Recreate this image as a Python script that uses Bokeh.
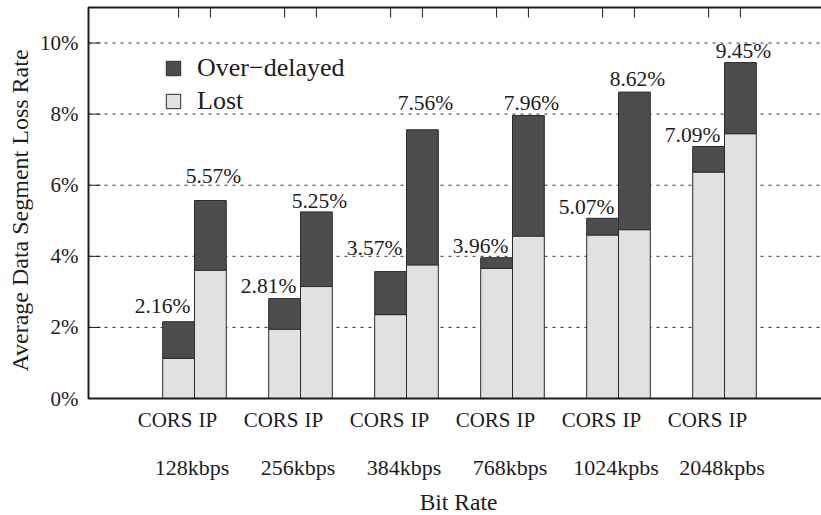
from math import pi

from bokeh.core.properties import value
from bokeh.embed import file_html
from bokeh.models import Legend, LegendItem, Range1d
from bokeh.plotting import figure
from bokeh.resources import INLINE

# ---- data (percent) -------------------------------------------------------
rates = ["128kbps", "256kbps", "384kbps", "768kbps", "1024kpbs", "2048kpbs"]
schemes = ["CORS", "IP"]
cors_lost = [1.13, 1.95, 2.36, 3.66, 4.60, 6.37]
cors_total = [2.16, 2.81, 3.57, 3.96, 5.07, 7.09]
ip_lost = [3.61, 3.15, 3.76, 4.57, 4.75, 7.45]
ip_total = [5.57, 5.25, 7.56, 7.96, 8.62, 9.45]
y_ticks = [0, 2, 4, 6, 8, 10]
y_max = 11

# ---- geometry & styling ----------------------------------------------------
W, H = 821, 515
X0, Y0 = 88, 398          # pixel position of the plot origin
SX = 106                  # pixels per bit-rate group
SY = (Y0 - 7) / y_max     # pixels per percent
FONT = value("Liberation Serif")
INK = "#1c1c1c"
DARK = "#4d4d4d"
LIGHT = "#e1e1e1"
EDGE = "#2b2b2b"
BAR_W = 0.3


def dx(px):
    return px / SX


def dy(px):
    return px / SY


x_end = (W - X0) / SX
groups = list(range(1, len(rates) + 1))
x_cors = [g - BAR_W / 2 for g in groups]
x_ip = [g + BAR_W / 2 for g in groups]
xs = x_cors + x_ip
lost = cors_lost + ip_lost
total = cors_total + ip_total

# the frame fills the whole canvas; borders, ticks and labels are drawn in data space
p = figure(width=W, height=H,
           x_range=Range1d(-X0 / SX, x_end), y_range=Range1d(-(H - Y0) / SY, Y0 / SY),
           output_backend="svg", toolbar_location=None,
           x_axis_location=None, y_axis_location=None,
           min_border=0)
p.outline_line_color = None
p.grid.visible = False
p.background_fill_color = "white"
p.border_fill_color = "white"

# dotted horizontal guides
grid_y = [t for t in y_ticks if t > 0]
p.segment(x0=[0] * len(grid_y), x1=[x_end] * len(grid_y), y0=grid_y, y1=grid_y,
          line_color="#333333", line_dash="3 5", line_width=1)

# stacked bars: lost at the base, over-delayed on top
r_lost = p.vbar(x=xs, bottom=0, top=lost, width=BAR_W,
                fill_color=LIGHT, line_color=EDGE, line_width=1)
r_over = p.vbar(x=xs, bottom=lost, top=total, width=BAR_W,
                fill_color=DARK, line_color=EDGE, line_width=1)

# border (left, bottom, top)
p.line(x=[x_end, 0, 0, x_end], y=[0, 0, y_max, y_max], line_color=INK, line_width=2)

# inward ticks: left at each percent level, top above each bar
p.segment(x0=[0] * len(y_ticks), x1=[dx(12)] * len(y_ticks), y0=y_ticks, y1=y_ticks,
          line_color=INK, line_width=1)
p.segment(x0=xs, x1=xs, y0=[y_max] * len(xs), y1=[y_max - dy(10)] * len(xs),
          line_color=INK, line_width=1)

# y tick labels
p.text(x=[-dx(10)] * len(y_ticks), y=y_ticks, text=[f"{t}%" for t in y_ticks],
       text_align="right", text_baseline="middle", text_font=FONT,
       text_font_size="21px", text_color=INK)

# y axis title
p.text(x=[-dx(X0 - 19)], y=[dy(Y0 - 210)], text=["Average Data Segment Loss Rate"],
       angle=pi / 2, text_align="center", text_baseline="middle", text_font=FONT,
       text_font_size="24px", text_color=INK)

# value labels on top of each stack (text centred ~7px above the digit baseline)
label_dx = {"CORS": -16, "IP": 3}
label_lift = {"CORS": [8, 5, 16, 4, 4, 4], "IP": [17, 3, 19, 5, 6, 4]}
for name, xpos, vals in (("CORS", x_cors, cors_total), ("IP", x_ip, ip_total)):
    p.text(x=[xv + dx(label_dx[name]) for xv in xpos],
           y=[v + dy(l + 7.5) for v, l in zip(vals, label_lift[name])],
           text=[f"{v:.2f}%" for v in vals],
           text_align="center", text_baseline="middle", text_font=FONT,
           text_font_size="21.5px", text_color=INK)

# scheme names under each bar on one line, CORS nudged left to clear IP
scheme_dx = {"CORS": -13.5, "IP": -2.5}
for name, xpos in zip(schemes, (x_cors, x_ip)):
    p.text(x=[xv + dx(scheme_dx[name]) for xv in xpos], y=[-dy(21)] * len(xpos),
           text=[name] * len(xpos), text_align="center",
           text_baseline="middle", text_font=FONT, text_font_size="21px",
           text_color=INK)

# bit-rate group names and x axis title
p.text(x=[g - dx(2.5) for g in groups], y=[-dy(474 - 7.5 - Y0)] * len(groups),
       text=rates, text_align="center", text_baseline="middle", text_font=FONT,
       text_font_size="22px", text_color=INK)
p.text(x=[dx(458 - X0)], y=[-dy(509 - 8 - Y0)], text=["Bit Rate"],
       text_align="center", text_baseline="middle", text_font=FONT,
       text_font_size="23.5px", text_color=INK)

legend = Legend(items=[LegendItem(label="Over\u2212delayed", renderers=[r_over]),
                       LegendItem(label="Lost", renderers=[r_lost])],
                location=(164, H - 116), glyph_width=18, glyph_height=18,
                label_standoff=15, label_height=30, spacing=3,
                padding=0, margin=0, border_line_color=None,
                background_fill_alpha=0, label_text_font="Liberation Serif",
                label_text_font_size="26px", label_text_color=INK)
p.add_layout(legend, "center")

with open("out.html", "w") as f:
    f.write(file_html(p, INLINE))
